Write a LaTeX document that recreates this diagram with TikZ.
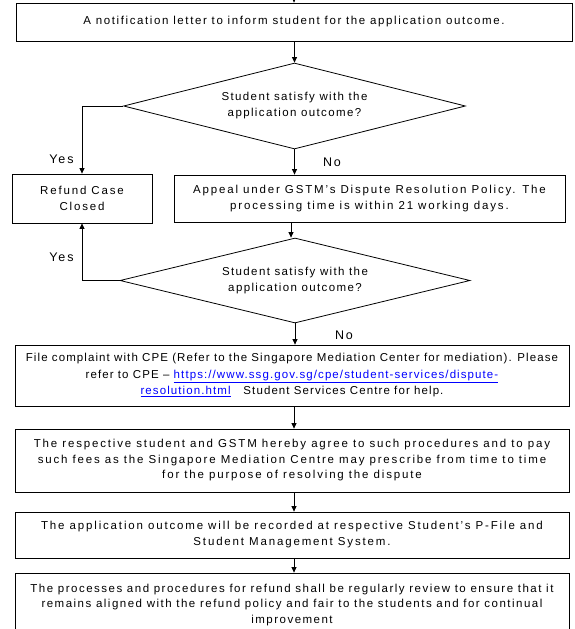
\documentclass[tikz,border=0pt]{standalone}
\usepackage{fontspec}
\setmainfont{Liberation Sans}
\usetikzlibrary{arrows.meta,shapes.geometric}
\newcommand{\ls}[1]{\addfontfeatures{LetterSpace=#1}}
\begin{document}
\begin{tikzpicture}[x=1pt,y=-1pt,
  every node/.style={font=\fontsize{11.5}{16}\selectfont, inner sep=0pt},
  box/.style={draw=black, line width=0.8pt, rectangle, align=center},
  dec/.style={draw=black, line width=0.8pt, diamond, aspect=4, align=center, font=\fontsize{11.5}{16}\selectfont\ls{12}},
  lab/.style={font=\fontsize{12.5}{14}\selectfont\ls{15}},
  arr/.style={draw=black, line width=0.8pt, -{Triangle[length=5.5pt,width=5pt]}}]
\useasboundingbox (0,0) rectangle (574,629);
\clip (0,0) rectangle (574,629);
% nodes
\node[box, minimum width=556pt, minimum height=38pt, font=\fontsize{11.5}{16}\selectfont\ls{14}] (b1) at (294,22) {A notification letter to inform student for the application outcome.};
\node[dec, minimum width=342pt, minimum height=86pt] (d1) at (294.5,106) {Student satisfy with the\\application outcome?};
\node[box, minimum width=140pt, minimum height=49pt, font=\fontsize{11.5}{16}\selectfont\ls{16}] (refund) at (82,198.5) {Refund Case\\Closed};
\node[box, minimum width=391pt, minimum height=47pt, font=\fontsize{11.5}{16}\selectfont\ls{16}] (appeal) at (369.5,198.5) {Appeal under GSTM's Dispute Resolution Policy. The\\processing time is within 21 working days.};
\node[dec, minimum width=350pt, minimum height=85pt] (d2) at (295,280.5) {Student satisfy with the\\application outcome?};
\node[box, minimum width=554pt, minimum height=61pt, font=\fontsize{11.5}{16.5}\selectfont\ls{9.5}] (cpe) at (292,375.5) {File complaint with CPE (Refer to the Singapore Mediation Center for mediation). Please\\refer to CPE -- {\color{blue}\underline{https://www.ssg.gov.sg/cpe/student-services/dispute-}}\\{\color{blue}\underline{resolution.html}}\ \ \ Student Services Centre for help.};
\node[box, minimum width=554pt, minimum height=63pt, font=\fontsize{11.5}{15.5}\selectfont\ls{16}] (resp) at (292,460.5) {The respective student and GSTM hereby agree to such procedures and to pay\\such fees as the Singapore Mediation Centre may prescribe from time to time\\for the purpose of resolving the dispute};
\node[box, minimum width=554pt, minimum height=46pt, font=\fontsize{11.5}{16}\selectfont\ls{16}] (rec) at (292,535) {The application outcome will be recorded at respective Student's P-File and\\Student Management System.};
\node[box, minimum width=554pt, minimum height=64pt, font=\fontsize{11.5}{15.5}\selectfont\ls{13}] (proc) at (292,605) {The processes and procedures for refund shall be regularly review to ensure that it\\remains aligned with the refund policy and fair to the students and for continual\\improvement};
% labels
\node[lab] (y1) at (61.5,159) {Yes};
\node[lab] (y2) at (61.5,257) {Yes};
\node[lab] (n1) at (332,162) {No};
\node[lab] (n2) at (344,335) {No};
% connectors
\coordinate (top) at (294,-10);
\draw[arr] (top) -- (b1.north);
\draw[arr] (b1.south -| d1.north) -- (d1.north);
\draw[arr] (d1.west) -| (refund.north);
\draw[arr] (d1.south) -- (d1.south |- appeal.north);
\draw[arr] (appeal.south -| 291,0) -- (d2.north -| 291,0);
\draw[arr] (d2.west) -| (refund.south);
\draw[arr] (d2.south) -- (d2.south |- cpe.north);
\draw[arr] (cpe.south -| 294,0) -- (resp.north -| 294,0);
\draw[arr] (resp.south -| 294,0) -- (rec.north -| 294,0);
\draw[arr] (rec.south -| 294,0) -- (proc.north -| 294,0);
\end{tikzpicture}
\end{document}
